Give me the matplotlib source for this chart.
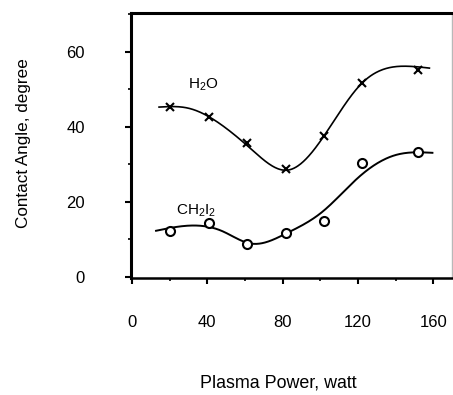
import numpy as np
import matplotlib
matplotlib.use("Agg")
import matplotlib.pyplot as plt
from matplotlib.ticker import MultipleLocator

plt.rcParams['font.family'] = ['Liberation Sans', 'DejaVu Sans']
plt.rcParams['mathtext.fontset'] = 'custom'
plt.rcParams['mathtext.rm'] = 'Liberation Sans'
plt.rcParams['mathtext.default'] = 'regular'

# measured points
power = [20, 41, 61, 82, 102, 122, 152]
h2o = [45.3, 42.7, 35.7, 28.8, 37.6, 51.7, 55.2]
ch2i2 = [12.3, 14.4, 8.8, 11.7, 14.9, 30.4, 33.3]

# smooth guide curves (knots)
h2o_curve_x = [14.4, 30, 48, 64, 83, 102, 122, 146, 158]
h2o_curve_y = [45.3, 45.0, 40.4, 33.8, 28.5, 37.6, 51.6, 56.2, 55.7]
ch2i2_curve_x = [12.8, 32, 48, 63, 82, 101, 120, 140, 159.6]
ch2i2_curve_y = [12.3, 13.7, 12.2, 8.9, 11.6, 17.3, 26.4, 32.5, 33.1]

xticks = [0, 40, 80, 120, 160]
yticks = [0, 20, 40, 60]


def natural_spline(x, y, n=400):
    x = np.asarray(x, float); y = np.asarray(y, float)
    k = len(x); h = np.diff(x)
    A = np.zeros((k, k)); b = np.zeros(k)
    A[0, 0] = A[-1, -1] = 1
    for i in range(1, k - 1):
        A[i, i - 1] = h[i - 1]; A[i, i] = 2 * (h[i - 1] + h[i]); A[i, i + 1] = h[i]
        b[i] = 6 * ((y[i + 1] - y[i]) / h[i] - (y[i] - y[i - 1]) / h[i - 1])
    M = np.linalg.solve(A, b)
    xs = np.linspace(x[0], x[-1], n)
    idx = np.clip(np.searchsorted(x, xs) - 1, 0, k - 2)
    x0, x1 = x[idx], x[idx + 1]; hh = x1 - x0
    ys = (M[idx] * (x1 - xs) ** 3 / (6 * hh) + M[idx + 1] * (xs - x0) ** 3 / (6 * hh)
          + (y[idx] / hh - M[idx] * hh / 6) * (x1 - xs)
          + (y[idx + 1] / hh - M[idx + 1] * hh / 6) * (xs - x0))
    return xs, ys


fig = plt.figure(figsize=(4.53, 3.95), dpi=100)
ax = fig.add_axes([131 / 453, 117 / 395, 321 / 453, 265 / 395])
ax.set_xlim(-0.5, 170)
ax.set_ylim(-0.3, 70.4)

xs, ys = natural_spline(h2o_curve_x, h2o_curve_y)
ax.plot(xs, ys, color='black', lw=1.2)
xs, ys = natural_spline(ch2i2_curve_x, ch2i2_curve_y)
ax.plot(xs, ys, color='black', lw=1.4)

ax.plot(power, h2o, linestyle='none', marker='x', ms=5.5, mew=1.5, color='black')
ax.plot(power, ch2i2, linestyle='none', marker='o', ms=6.5, mew=1.5,
        mfc='white', mec='black')

ax.text(38, 51.2, r'H$_2$O', fontsize=11, ha='center', va='center')
ax.text(34.2, 17.5, r'CH$_2$I$_2$', fontsize=11, ha='center', va='center')

ax.set_xticks(xticks)
ax.set_yticks(yticks)
ax.xaxis.set_minor_locator(MultipleLocator(20))
ax.yaxis.set_minor_locator(MultipleLocator(10))
ax.tick_params(axis='both', which='major', direction='out', length=4.3, width=1.5,
               labelsize=12)
ax.tick_params(axis='both', which='minor', direction='out', length=2.5, width=1.2)
ax.tick_params(axis='x', which='major', pad=22)
ax.tick_params(axis='y', which='major', pad=29)

for s in ['left', 'top']:
    ax.spines[s].set_linewidth(2.2)
ax.spines['bottom'].set_linewidth(1.8)
ax.spines['right'].set_linewidth(1.0)
ax.spines['right'].set_color('#b8b8b8')

fig.text(278.5 / 453, (395 - 383) / 395, 'Plasma Power, watt', fontsize=12.9,
         ha='center', va='center')
fig.text(24 / 453, (395 - 143) / 395, 'Contact Angle, degree', fontsize=12.3,
         ha='center', va='center', rotation=90)

fig.savefig('out.png', dpi=100)
